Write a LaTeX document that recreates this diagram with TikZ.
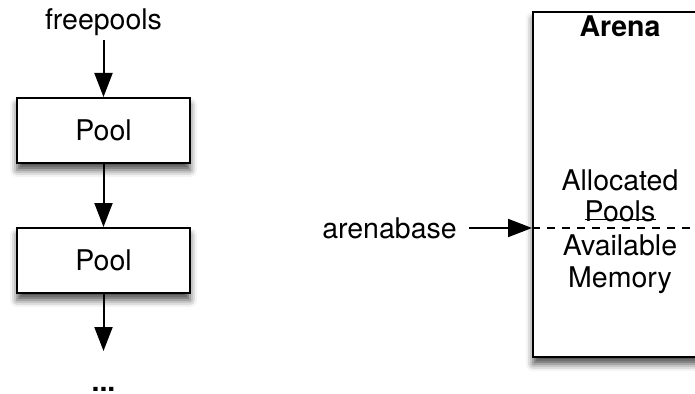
\documentclass[tikz,border=0pt]{standalone}
\usepackage{fontspec}
\setmainfont{TeX Gyre Heros}
\usetikzlibrary{arrows.meta,shadows.blur}
\tikzset{
  lbl/.style={inner sep=0pt, anchor=base, font=\fontsize{28.5}{34}\selectfont},
  boxshape/.style={draw=black, line width=2pt, fill=white,
    blur shadow={shadow xshift=0pt, shadow yshift=-7pt, shadow blur radius=7pt, shadow opacity=70}},
  poolbox/.style={boxshape, minimum width=173pt, minimum height=65pt, inner sep=0pt, font=\fontsize{28.5}{34}\selectfont},
  conn/.style={line width=2pt, -{Triangle[length=24pt,width=18pt]}},
}
\begin{document}
\begin{tikzpicture}[x=1pt,y=-1pt]
\useasboundingbox (0,0) rectangle (695,393);
\clip (0,0) rectangle (695,393);
% left chain
\node[lbl] (fp) at (103.5,30) {freepools};
\node[poolbox] (p1) at (103.5,130.5) {Pool};
\node[poolbox] (p2) at (103.5,260.5) {Pool};
\coordinate (fps) at (103.5,40);
\coordinate (pend) at (103.5,351);
\node[lbl, font=\bfseries\fontsize{28.5}{34}\selectfont] (dots) at (103.5,391) {...};
\draw[conn] (fps) -- (p1.north);
\draw[conn] (p1) -- (p2);
\draw[conn] (p2) -- (pend);
% arena
\node[boxshape, minimum width=174pt, minimum height=345pt, inner sep=0pt] (arena) at (620,184.5) {};
\node[lbl, font=\bfseries\fontsize{28.5}{34}\selectfont] (arenat) at (620,37) {Arena};
\node[lbl] (alloc) at (620,190) {Allocated};
\node[lbl] (pools) at (620,221) {Pools};
\node[lbl] (avail) at (620,255) {Available};
\node[lbl] (mem) at (620,287) {Memory};
\draw[line width=1.2pt] (pools.south west) ++(0,2pt) -- ++(71pt,0);
\coordinate (split) at (arena.west |- 0,228);
\draw[line width=2pt, dash pattern=on 8pt off 7pt] (split) -- (arena.east |- split);
\node[lbl] (ab) at (389.5,238) {arenabase};
\coordinate (abs) at (469,228);
\draw[conn] (abs) -- (split);
\end{tikzpicture}
\end{document}
